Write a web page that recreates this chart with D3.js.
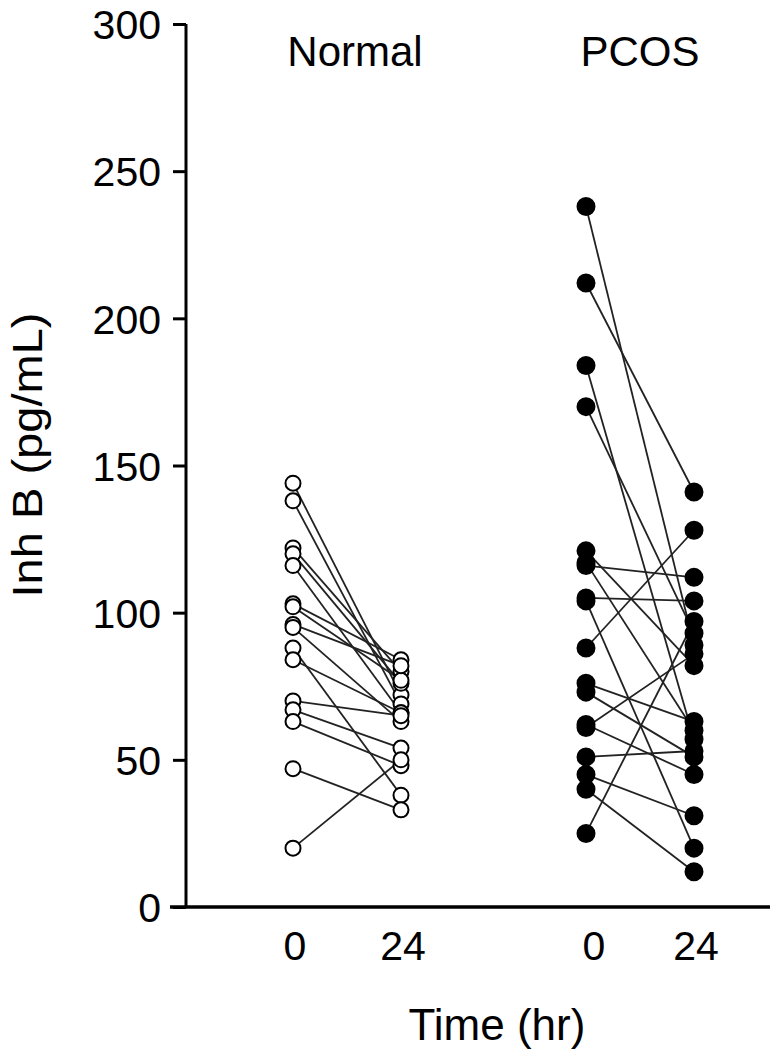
<!DOCTYPE html>
<html>
<head>
<meta charset="utf-8">
<script src="https://cdn.jsdelivr.net/npm/d3@7"></script>
<style>
  body { margin: 0; background: #fff; }
  svg { display: block; font-family: "Liberation Sans", Arial, sans-serif; }
</style>
</head>
<body>
<div class="chart"></div>
<script>
const groups = ["Normal", "PCOS"]
const times = [0, 24]
const yTicks = [0, 50, 100, 150, 200, 250, 300]

// paired values, 0 hr -> 24 hr
const normal0  = [144, 138, 122, 120, 116, 103, 102, 96, 95, 88, 84, 70, 67, 63, 47, 20]
const normal24 = [72, 69, 80, 76, 66, 84, 77, 82, 63, 38, 66, 65, 54, 48, 33, 50]
const pcos0  = [238, 212, 184, 170, 121, 117, 116, 105, 104, 88, 76, 73, 62, 61, 51, 45, 40, 25]
const pcos24 = [89, 141, 57, 93, 82, 60, 112, 104, 20, 128, 63, 51, 45, 86, 53, 31, 12, 97]

const width = 779
const height = 1050

const svg = d3.create("svg")
  .attr("width", width)
  .attr("height", height)

const y = d3.scaleLinear()
  .domain([0, 300])
  .range([907, 24])

const xGroup = d3.scalePoint()
  .domain(groups)
  .range([347, 640])

const xTime = d3.scaleLinear()
  .domain([0, 24])
  .range([-54, 54])

const x = (g, t) => xGroup(g) + xTime(t)

const series = [
  {group: "Normal", a: normal0, b: normal24, fill: "#fff", r: 7.5},
  {group: "PCOS", a: pcos0, b: pcos24, fill: "#000", r: 8.5}
]

// connecting lines
series.forEach(s => {
  svg.append("g")
    .selectAll("line")
    .data(s.a.map((v, i) => [v, s.b[i]]))
    .join("line")
    .attr("x1", x(s.group, 0))
    .attr("x2", x(s.group, 24))
    .attr("y1", d => y(d[0]))
    .attr("y2", d => y(d[1]))
    .attr("stroke", "#222")
    .attr("stroke-width", 1.8)
})

// points
series.forEach(s => {
  const pts = s.a.map(v => ({t: 0, v})).concat(s.b.map(v => ({t: 24, v})))
  svg.append("g")
    .selectAll("circle")
    .data(pts)
    .join("circle")
    .attr("cx", d => x(s.group, d.t))
    .attr("cy", d => y(d.v))
    .attr("r", s.r)
    .attr("fill", s.fill)
    .attr("stroke", "#000")
    .attr("stroke-width", 2)
})

// y axis
const yAxis = svg.append("g")
  .attr("transform", "translate(186,0)")
  .call(d3.axisLeft(y).tickValues(yTicks).tickSize(13).tickPadding(12))
yAxis.select(".domain").attr("stroke-width", 3).attr("d", `M0,${y(300)}V${y(0)}`)
yAxis.selectAll(".tick line").attr("stroke-width", 3)
yAxis.selectAll(".tick text")
  .attr("fill", "#000")
  .style("font-size", "41px")
  .attr("dy", "0.36em")

// x axis line
svg.append("line")
  .attr("x1", 170).attr("x2", 770)
  .attr("y1", y(0)).attr("y2", y(0))
  .attr("stroke", "#000")
  .attr("stroke-width", 3.5)

// time labels
groups.forEach(g => {
  svg.append("g")
    .selectAll("text")
    .data(times)
    .join("text")
    .attr("x", t => x(g, t) + (g === "PCOS" && t === 0 ? 8 : 2))
    .attr("y", 960)
    .attr("text-anchor", "middle")
    .style("font-size", "41px")
    .text(t => t)
})

// group titles
svg.append("g")
  .selectAll("text")
  .data(groups)
  .join("text")
  .attr("x", g => xGroup(g) + (g === "Normal" ? 8 : 0))
  .attr("y", 66)
  .attr("text-anchor", "middle")
  .style("font-size", "42px")
  .text(g => g)

// axis titles
svg.append("text")
  .attr("x", 497)
  .attr("y", 1040)
  .attr("text-anchor", "middle")
  .style("font-size", "44px")
  .text("Time (hr)")

svg.append("text")
  .attr("transform", "translate(42,455) rotate(-90) scale(1.12,1)")
  .attr("text-anchor", "middle")
  .style("font-size", "42px")
  .text("Inh B (pg/mL)")

document.querySelector(".chart").append(svg.node())
</script>
</body>
</html>
